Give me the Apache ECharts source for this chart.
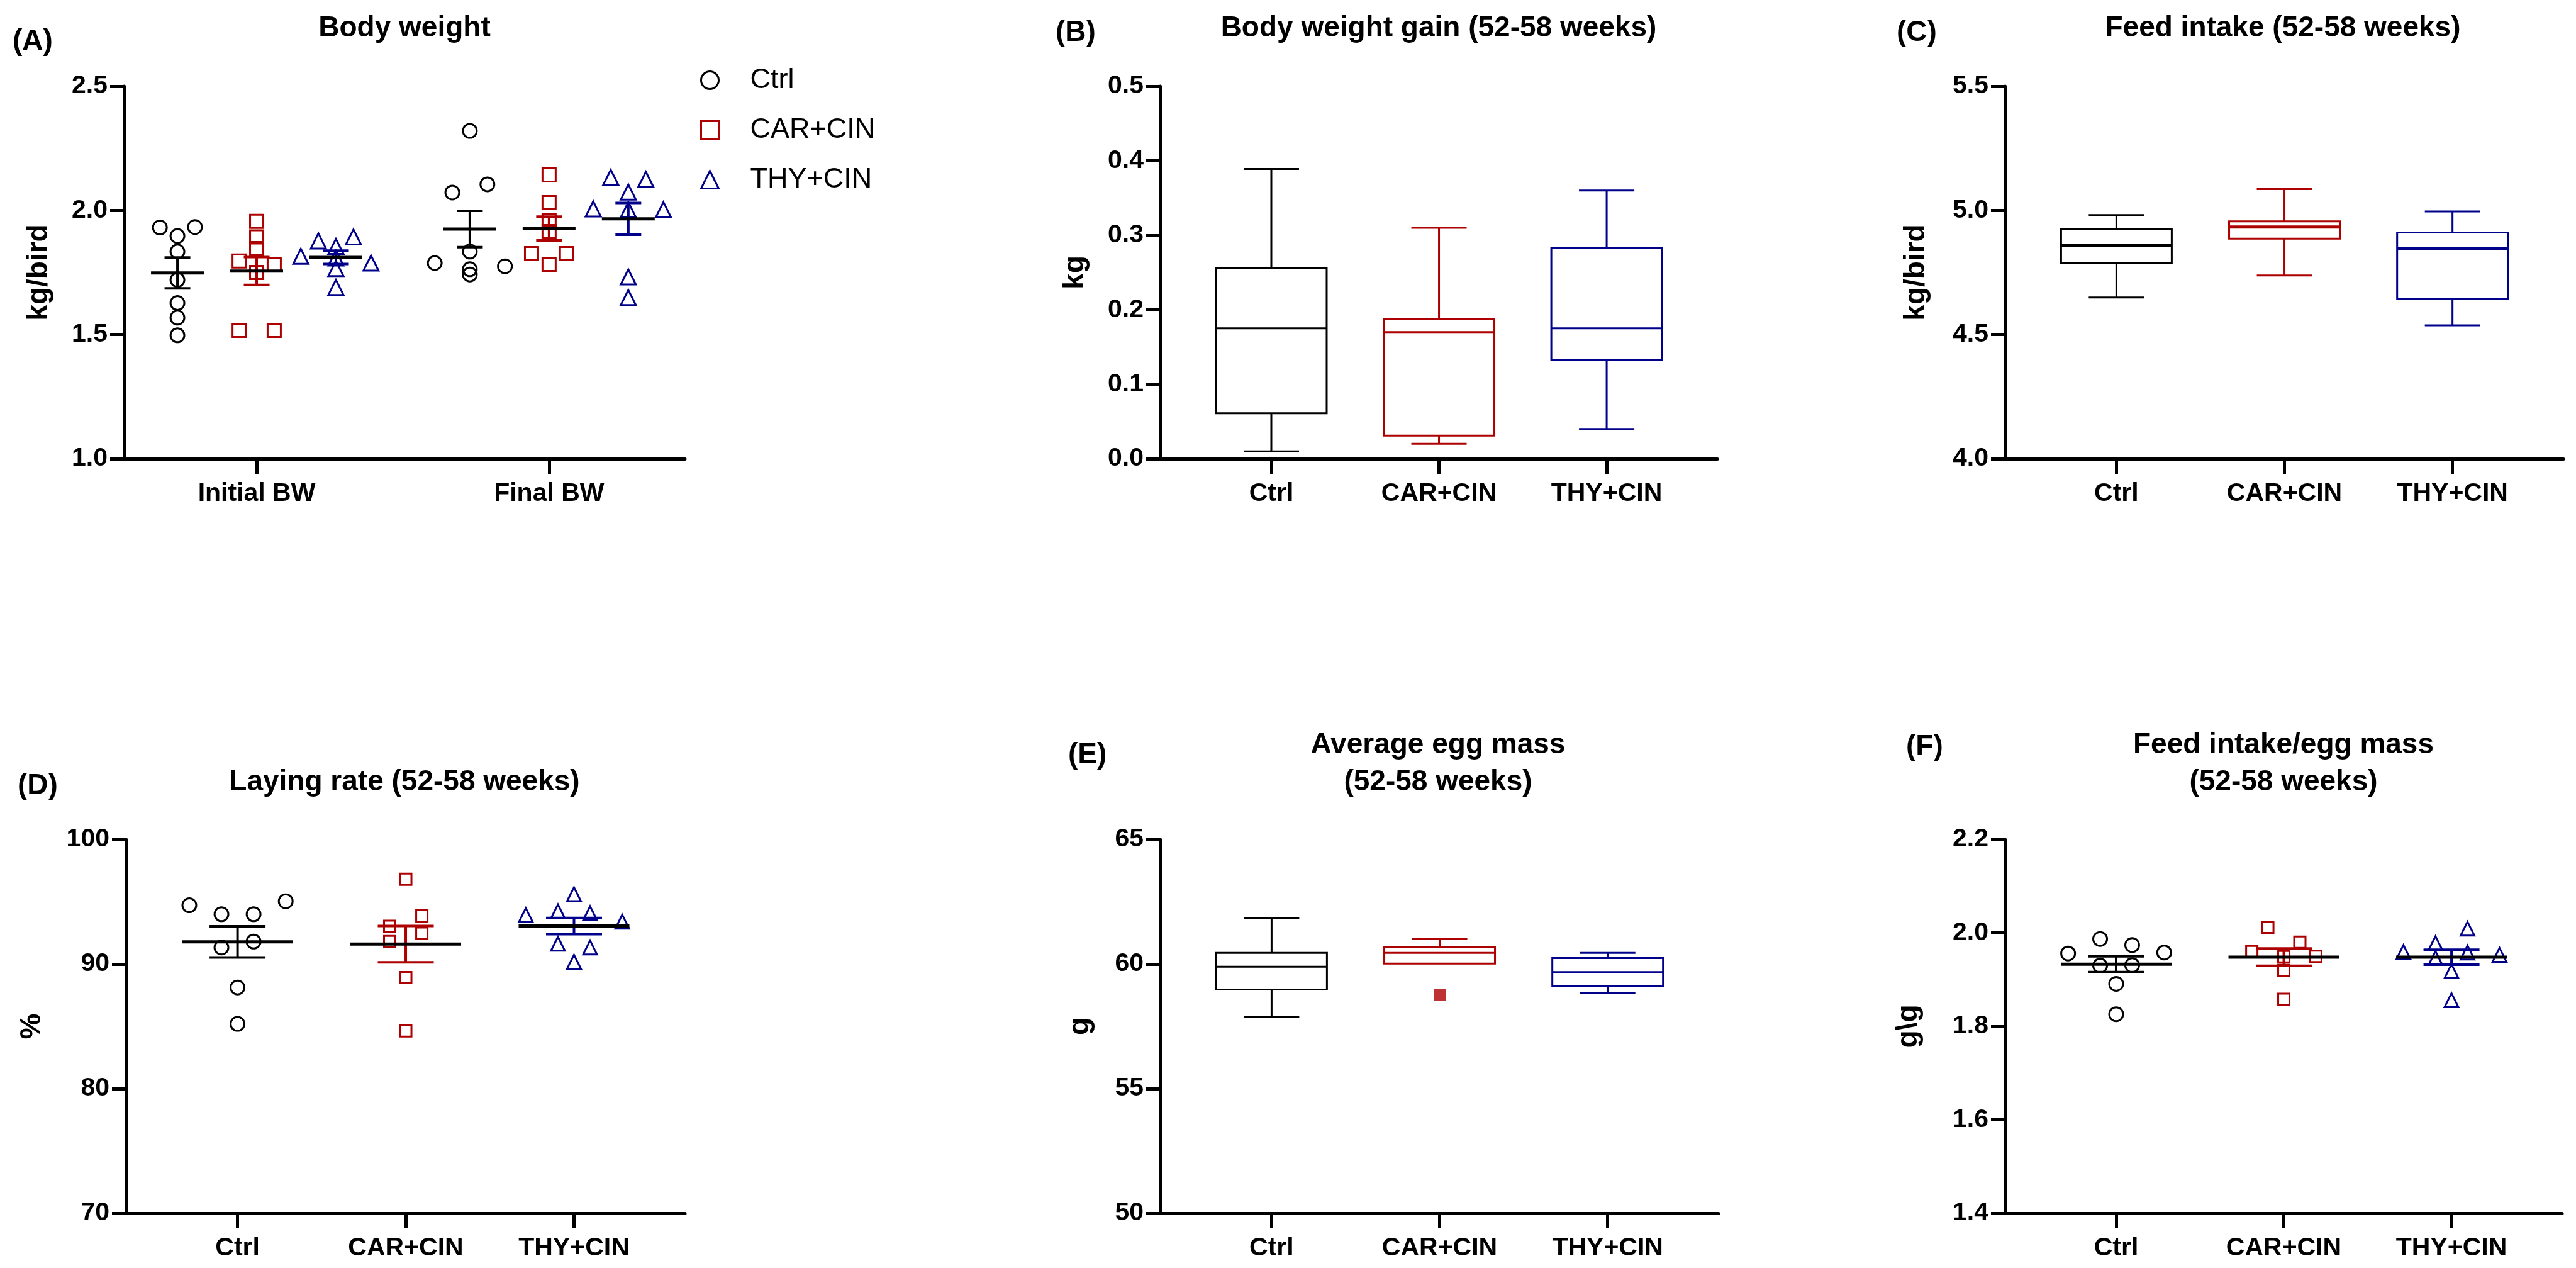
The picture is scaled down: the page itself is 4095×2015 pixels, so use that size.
<!DOCTYPE html>
<html>
<head>
<meta charset="utf-8">
<script src="https://cdn.jsdelivr.net/npm/echarts@6.0.0/dist/echarts.min.js"></script>
<style>
  html, body { margin: 0; padding: 0; background: #fff; }
  #main { width: 4095px; height: 2015px; }
</style>
</head>
<body>
<div id="main"></div>
<script>
// groups / categories
var groups = ['Ctrl', 'CAR+CIN', 'THY+CIN'];
var bwTimes = ['Initial BW', 'Final BW'];

// (A) body weight, kg/bird - individual birds
var bwInitialCtrl = [1.931, 1.933, 1.897, 1.834, 1.72, 1.627, 1.568, 1.497];
var bwInitialCar  = [1.956, 1.893, 1.846, 1.796, 1.783, 1.75, 1.517, 1.517];
var bwInitialThy  = [1.877, 1.893, 1.855, 1.815, 1.808, 1.788, 1.766, 1.69];
var bwFinalCtrl   = [2.32, 2.072, 2.105, 1.834, 1.742, 1.788, 1.763, 1.775];
var bwFinalCar    = [2.143, 2.031, 1.96, 1.915, 1.783, 1.826, 1.826];
var bwFinalThy    = [2.133, 2.125, 2.074, 2.006, 2.003, 2.003, 1.732, 1.649];
// mean / SEM (Ctrl, CAR+CIN, THY+CIN)
var bwMeanInitial = [1.748, 1.756, 1.811];
var bwSemInitial  = [0.062, 0.056, 0.027];
var bwMeanFinal   = [1.925, 1.927, 1.966];
var bwSemFinal    = [0.073, 0.048, 0.064];

// (B) body weight gain, kg - [min, Q1, median, Q3, max]
var gainCtrl = [0.010, 0.061, 0.175, 0.256, 0.389];
var gainCar  = [0.020, 0.031, 0.170, 0.188, 0.310];
var gainThy  = [0.040, 0.133, 0.175, 0.283, 0.360];

// (C) feed intake, kg/bird
var feedCtrl = [4.649, 4.788, 4.860, 4.925, 4.981];
var feedCar  = [4.738, 4.886, 4.933, 4.956, 5.086];
var feedThy  = [4.537, 4.642, 4.845, 4.911, 4.996];

// (D) laying rate, %
var layCtrl = [94.72, 94.0, 94.0, 95.04, 91.33, 91.8, 88.12, 85.2];
var layCar  = [96.81, 93.03, 93.86, 91.8, 92.48, 88.92, 84.63];
var layThy  = [95.6, 93.93, 94.23, 94.08, 93.4, 91.63, 91.33, 90.18];
var layMean = [91.78, 91.6, 93.05];
var laySem  = [1.25, 1.46, 0.65];

// (E) average egg mass, g
var eggCtrl = [57.89, 58.98, 59.89, 60.45, 61.84];
var eggCar  = [60.02, 60.02, 60.45, 60.67, 61.01];
var eggThy  = [58.85, 59.11, 59.68, 60.24, 60.45];
var eggCarOutliers = [58.77];

// (F) feed intake / egg mass, g\g
var fcrCtrl = [1.956, 1.987, 1.974, 1.958, 1.93, 1.931, 1.891, 1.826];
var fcrCar  = [1.96, 2.012, 1.98, 1.949, 1.95, 1.92, 1.858];
var fcrThy  = [1.959, 1.978, 2.009, 1.946, 1.958, 1.953, 1.918, 1.856];
var fcrMean = [1.933, 1.948, 1.948];
var fcrSem  = [0.017, 0.0185, 0.016];

// ---- style / layout ----
var FONT = 'Liberation Sans, Arial, Helvetica, sans-serif';
var COLORS = ['#000000', '#AD0000', '#00008B'];
var SYMBOLS = ['circle', 'rect', 'triangle'];

var grids = [
    { left: 197,  top: 137,  width: 892, height: 592 },  // A
    { left: 1844, top: 137,  width: 886, height: 592 },  // B
    { left: 3187, top: 137,  width: 888, height: 592 },  // C
    { left: 200,  top: 1334, width: 889, height: 594 },  // D
    { left: 1844, top: 1334, width: 888, height: 594 },  // E
    { left: 3187, top: 1334, width: 886, height: 594 }   // F
];
var X3_MIN = -0.664, X3_MAX = 2.66;      // three groups, 266.5px apart
var X2_MIN = -0.454, X2_MAX = 1.465;     // two time points in (A)
var A_OFFSET = [-0.271, 0, 0.271];       // group offset inside a time point

// simple beeswarm: values close in y share a row and spread sideways
function swarm(vals, cx, pxPerY, binPx, stepX) {
    var idx = vals.map(function (v, i) { return i; })
        .sort(function (a, b) { return vals[b] - vals[a]; });
    var bins = [], cur = null;
    idx.forEach(function (i) {
        if (cur && (vals[cur[0]] - vals[i]) * pxPerY <= binPx) cur.push(i);
        else { cur = [i]; bins.push(cur); }
    });
    var out = [];
    bins.forEach(function (b) {
        b.sort(function (a, c) { return a - c; });
        b.forEach(function (i, k) {
            out.push([cx + (k - (b.length - 1) / 2) * stepX, vals[i]]);
        });
    });
    return out;
}

function xAxisOf(gi, min, max, labels) {
    var ticks = labels.map(function (l, i) { return i; });
    return {
        type: 'value', gridIndex: gi, min: min, max: max,
        axisLine: { show: true, onZero: false, lineStyle: { color: '#000', width: 5 } },
        axisTick: { show: true, length: 24, customValues: ticks, lineStyle: { color: '#000', width: 5 } },
        axisLabel: {
            customValues: ticks, margin: 35, color: '#000', fontSize: 41, fontWeight: 'bold', fontFamily: FONT,
            formatter: function (v) { return labels[Math.round(v)]; }
        },
        splitLine: { show: false }
    };
}

function yAxisOf(gi, min, max, interval, digits, name, gap) {
    return {
        type: 'value', gridIndex: gi, min: min, max: max, interval: interval,
        name: name, nameLocation: 'middle', nameGap: gap,
        nameTextStyle: { color: '#000', fontSize: 46, fontWeight: 'bold', fontFamily: FONT },
        axisLine: { show: true, onZero: false, lineStyle: { color: '#000', width: 5 } },
        axisTick: { show: true, length: 22, lineStyle: { color: '#000', width: 5 } },
        axisLabel: {
            margin: 26, color: '#000', fontSize: 41, fontWeight: 'bold', fontFamily: FONT,
            formatter: function (v) { return v.toFixed(digits); }
        },
        splitLine: { show: false }
    };
}

function pointSeries(name, gi, g, data, size) {
    return {
        type: 'scatter', name: name, xAxisIndex: gi, yAxisIndex: gi,
        symbol: SYMBOLS[g], symbolSize: size, z: 2,
        itemStyle: { color: 'rgba(0,0,0,0)', borderColor: COLORS[g], borderWidth: 3, opacity: 1 },
        data: data
    };
}

// mean line (black) with SEM bars (group colour)
function meanSemSeries(gi, data, meanW, capW, lw) {
    return {
        type: 'custom', xAxisIndex: gi, yAxisIndex: gi, z: 3,
        encode: { x: 0, y: 1 },
        renderItem: function (params, api) {
            var x = api.value(0), m = api.value(1), s = api.value(2), col = COLORS[api.value(3)];
            var c = api.coord([x, m]), hi = api.coord([x, m + s]), lo = api.coord([x, m - s]);
            function ln(x1, y1, x2, y2, stroke, w) {
                return { type: 'line', shape: { x1: x1, y1: y1, x2: x2, y2: y2 }, style: { stroke: stroke, lineWidth: w } };
            }
            return { type: 'group', children: [
                ln(c[0], hi[1], c[0], lo[1], col, lw),
                ln(c[0] - capW / 2, hi[1], c[0] + capW / 2, hi[1], col, lw),
                ln(c[0] - capW / 2, lo[1], c[0] + capW / 2, lo[1], col, lw),
                ln(c[0] - meanW / 2, c[1], c[0] + meanW / 2, c[1], '#000', lw + 1)
            ] };
        },
        data: data
    };
}

// box and whiskers, caps half the box width
function boxSeries(gi, boxes, boxW, lw, medW) {
    return {
        type: 'custom', xAxisIndex: gi, yAxisIndex: gi, z: 2,
        encode: { x: 0, y: [1, 2, 3, 4, 5] },
        renderItem: function (params, api) {
            var x = api.value(0), col = COLORS[api.value(6)];
            var pMin = api.coord([x, api.value(1)]), pQ1 = api.coord([x, api.value(2)]),
                pMed = api.coord([x, api.value(3)]), pQ3 = api.coord([x, api.value(4)]),
                pMax = api.coord([x, api.value(5)]);
            var cx = pMed[0], capW = boxW / 2;
            function ln(x1, y1, x2, y2, w) {
                return { type: 'line', shape: { x1: x1, y1: y1, x2: x2, y2: y2 }, style: { stroke: col, lineWidth: w } };
            }
            var ch = [
                { type: 'rect', shape: { x: cx - boxW / 2, y: pQ3[1], width: boxW, height: pQ1[1] - pQ3[1] },
                  style: { fill: 'none', stroke: col, lineWidth: lw } },
                ln(cx - boxW / 2, pMed[1], cx + boxW / 2, pMed[1], medW)
            ];
            if (pMax[1] < pQ3[1] - 0.5) {
                ch.push(ln(cx, pQ3[1], cx, pMax[1], lw), ln(cx - capW / 2, pMax[1], cx + capW / 2, pMax[1], lw));
            }
            if (pMin[1] > pQ1[1] + 0.5) {
                ch.push(ln(cx, pQ1[1], cx, pMin[1], lw), ln(cx - capW / 2, pMin[1], cx + capW / 2, pMin[1], lw));
            }
            return { type: 'group', children: ch };
        },
        data: boxes.map(function (b, g) { return [g].concat(b).concat([g]); })
    };
}

function titleOf(text, x, y, align, lh) {
    return {
        text: text, left: x, top: y, textAlign: align, padding: 0,
        textStyle: { color: '#000', fontSize: 46, fontWeight: 'bold', fontFamily: FONT, lineHeight: lh }
    };
}

// ---- build series ----
var series = [];
var bwInit = [bwInitialCtrl, bwInitialCar, bwInitialThy];
var bwFinal = [bwFinalCtrl, bwFinalCar, bwFinalThy];
var aSize = [22, 21, 24];
groups.forEach(function (name, g) {
    var pts = swarm(bwInit[g], 0 + A_OFFSET[g], 592 / 1.5, 14, 0.12)
        .concat(swarm(bwFinal[g], 1 + A_OFFSET[g], 592 / 1.5, 14, 0.12));
    series.push(pointSeries(name, 0, g, pts, aSize[g]));
});
var aMeans = [];
groups.forEach(function (name, g) {
    aMeans.push([0 + A_OFFSET[g], bwMeanInitial[g], bwSemInitial[g], g]);
    aMeans.push([1 + A_OFFSET[g], bwMeanFinal[g], bwSemFinal[g], g]);
});
series.push(meanSemSeries(0, aMeans, 84, 41, 4));

series.push(boxSeries(1, [gainCtrl, gainCar, gainThy], 176, 3, 3));
series.push(boxSeries(2, [feedCtrl, feedCar, feedThy], 176, 3, 5));

var dSize = [22, 18, 22];
[layCtrl, layCar, layThy].forEach(function (vals, g) {
    series.push(pointSeries(groups[g], 3, g, swarm(vals, g, 594 / 30, 24, 0.191), dSize[g]));
});
series.push(meanSemSeries(3, layMean.map(function (m, g) { return [g, m, laySem[g], g]; }), 176, 89, 4));

series.push(boxSeries(4, [eggCtrl, eggCar, eggThy], 176, 3, 3));
series.push({
    type: 'scatter', xAxisIndex: 4, yAxisIndex: 4, symbol: 'rect', symbolSize: 19, z: 3,
    itemStyle: { color: COLORS[1] },
    data: eggCarOutliers.map(function (v) { return [1, v]; })
});

[fcrCtrl, fcrCar, fcrThy].forEach(function (vals, g) {
    series.push(pointSeries(groups[g], 5, g, swarm(vals, g, 594 / 0.8, 24, 0.191), dSize[g]));
});
series.push(meanSemSeries(5, fcrMean.map(function (m, g) { return [g, m, fcrSem[g], g]; }), 176, 89, 4));

var option = {
    animation: false,
    backgroundColor: '#fff',
    title: [
        titleOf('(A)', 20, 38, 'left', 56),
        titleOf('Body weight', 643, 17, 'center', 56),
        titleOf('(B)', 1678, 24, 'left', 56),
        titleOf('Body weight gain (52-58 weeks)', 2287, 17, 'center', 56),
        titleOf('(C)', 3015, 24, 'left', 56),
        titleOf('Feed intake (52-58 weeks)', 3629, 17, 'center', 56),
        titleOf('(D)', 28, 1221, 'left', 56),
        titleOf('Laying rate (52-58 weeks)', 643, 1215, 'center', 56),
        titleOf('(E)', 1698, 1172, 'left', 56),
        titleOf('Average egg mass\n(52-58 weeks)', 2286, 1155, 'center', 59),
        titleOf('(F)', 3030, 1159, 'left', 56),
        titleOf('Feed intake/egg mass\n(52-58 weeks)', 3630, 1155, 'center', 59)
    ],
    legend: {
        data: groups, orient: 'vertical', left: 1108, top: 100,
        itemWidth: 28, itemHeight: 28, itemGap: 34, selectedMode: false,
        itemStyle: { borderWidth: 3 },
        textStyle: { color: '#000', fontSize: 45, fontFamily: FONT, lineHeight: 30, padding: [0, 0, 0, 45] }
    },
    grid: grids,
    xAxis: [
        xAxisOf(0, X2_MIN, X2_MAX, bwTimes),
        xAxisOf(1, X3_MIN, X3_MAX, groups),
        xAxisOf(2, X3_MIN, X3_MAX, groups),
        xAxisOf(3, X3_MIN, X3_MAX, groups),
        xAxisOf(4, X3_MIN, X3_MAX, groups),
        xAxisOf(5, X3_MIN, X3_MAX, groups)
    ],
    yAxis: [
        yAxisOf(0, 1.0, 2.5, 0.5, 1, 'kg/bird', 112),
        yAxisOf(1, 0, 0.5, 0.1, 1, 'kg', 112),
        yAxisOf(2, 4.0, 5.5, 0.5, 1, 'kg/bird', 118),
        yAxisOf(3, 70, 100, 10, 0, '%', 126),
        yAxisOf(4, 50, 65, 5, 0, 'g', 104),
        yAxisOf(5, 1.4, 2.2, 0.2, 1, 'g\\g', 130)
    ],
    series: series
};

var chart = echarts.init(document.getElementById('main'));
chart.setOption(option);
</script>
</body>
</html>
